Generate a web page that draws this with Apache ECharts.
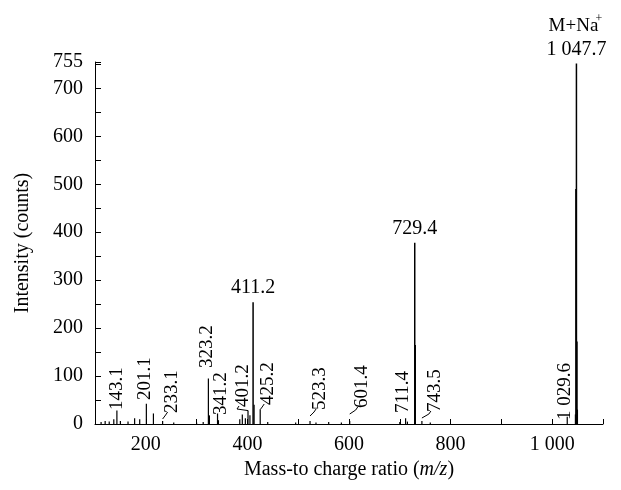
<!DOCTYPE html>
<html>
<head>
<meta charset="utf-8">
<script src="https://cdn.jsdelivr.net/npm/echarts@6/dist/echarts.min.js"></script>
<style>
  html, body { margin: 0; padding: 0; background: #fff; }
  #main { width: 621px; height: 490px; }
</style>
</head>
<body>
<div id="main"></div>
<script>
// peak list (m/z, counts)
const mz = [112, 120, 128, 137, 143.1, 150, 165, 178, 188, 201.1, 215, 233.1, 255, 300, 313,
  323.2, 325.2, 341.2, 343, 385, 390, 396, 401.2, 405, 411.2, 413.2, 425.2, 440, 495, 523.3,
  535, 560, 585, 601.4, 700, 711.4, 715, 729.4, 730.4, 743.5, 760, 1029.6, 1045.7, 1046.7,
  1047.7, 1048.7, 1049.7];
const intensity = [4, 6, 5, 10, 28, 6, 5, 12, 10, 42, 22, 6, 3, 3, 4,
  95, 18, 22, 8, 10, 20, 12, 28, 18, 254, 40, 30, 4, 3, 6,
  3, 4, 3, 6, 4, 12, 5, 378, 165, 6, 3, 15, 20, 490,
  752, 172, 30];

// labelled peaks
const sideLabels = [143.1, 201.1, 233.1, 323.2, 341.2, 401.2, 425.2, 523.3, 601.4, 711.4, 743.5, 1029.6];
const topLabels = [411.2, 729.4, 1047.7];
const adduct = { mz: 1047.7, text: 'M+Na' };

const yTickLabels = [0, 100, 200, 300, 400, 500, 600, 700, 755];
const yTicks = [0, 50, 100, 150, 200, 250, 300, 350, 400, 450, 500, 550, 600, 650, 700, 750, 755];
const xTickLabels = [200, 400, 600, 800, 1000];

// label nudges in px: [dx from peak, lift of label bottom above baseline]
const nudge = {
  '143.1': [0, 14], '201.1': [-1, 24], '233.1': [9, 11], '323.2': [-1, 56],
  '341.2': [3, 9], '401.2': [-5, 17], '425.2': [8, 19], '523.3': [10, 14],
  '601.4': [12, 16], '711.4': [-3, 11], '743.5': [13, 12], '1029.6': [-2, 4]
};

const FONT = '"Liberation Serif", "Times New Roman", serif';

function fmt(v) {
  // 1 047.7 style thousands separator
  return String(v).replace(/^(\d)(\d{3})/, '$1 $2');
}

const chart = echarts.init(document.getElementById('main'), null, { renderer: 'canvas' });

const option = {
  backgroundColor: '#fff',
  animation: false,
  grid: { left: 95, right: 18, top: 62, bottom: 66 },
  xAxis: {
    type: 'value',
    min: 100,
    max: 1100,
    interval: 100,
    name: '{n|Mass-to charge ratio (}{i|m/z}{n|)}',
    nameLocation: 'middle',
    nameGap: 31,
    nameTextStyle: {
      rich: {
        n: { fontFamily: FONT, fontSize: 20, color: '#000' },
        i: { fontFamily: FONT, fontSize: 20, color: '#000', fontStyle: 'italic' }
      }
    },
    axisLine: { lineStyle: { color: '#000', width: 1 } },
    axisTick: { inside: true, length: 5, lineStyle: { color: '#000' } },
    axisLabel: {
      customValues: xTickLabels,
      formatter: fmt,
      margin: 11,
      fontFamily: FONT,
      fontSize: 20,
      color: '#000'
    },
    splitLine: { show: false }
  },
  yAxis: {
    type: 'value',
    min: 0,
    max: 755,
    name: 'Intensity (counts)',
    nameLocation: 'middle',
    nameGap: 62,
    nameTextStyle: { fontFamily: FONT, fontSize: 20, color: '#000' },
    axisLine: { show: true, lineStyle: { color: '#000', width: 1 } },
    axisTick: { show: true, inside: true, length: 6, customValues: yTicks, lineStyle: { color: '#000' } },
    axisLabel: {
      customValues: yTickLabels,
      margin: 12,
      fontFamily: FONT,
      fontSize: 20,
      color: '#000'
    },
    splitLine: { show: false }
  },
  series: [{
    type: 'custom',
    clip: false,
    data: mz.map((m, i) => [m, intensity[i]]),
    renderItem: function (params, api) {
      const m = api.value(0);
      const h = api.value(1);
      const top = api.coord([m, h]);
      const base = api.coord([m, 0]);
      const kids = [{
        type: 'line',
        shape: { x1: top[0], y1: base[1], x2: top[0], y2: top[1] },
        style: { stroke: '#000', lineWidth: h > 100 ? 1.5 : 1.2 }
      }];
      if (sideLabels.indexOf(m) >= 0) {
        const nd = nudge[String(m)] || [0, 10];
        const lx = top[0] + nd[0];
        const ly = base[1] - nd[1];
        kids.push({
          type: 'text',
          x: lx, y: ly,
          rotation: Math.PI / 2,
          style: {
            text: fmt(m), font: '19px ' + FONT, fill: '#000',
            align: 'left', verticalAlign: 'middle',
            textAlign: 'left', textVerticalAlign: 'middle'
          }
        });
        if (Math.abs(nd[0]) > 4) {
          // little hook from label to its peak
          kids.push({
            type: 'polyline',
            shape: { points: [[lx - 4, ly - 1], [lx - 6, ly + 2], [top[0], Math.min(top[1], ly + 6)]] },
            style: { stroke: '#000', lineWidth: 1, fill: null }
          });
        }
      }
      if (topLabels.indexOf(m) >= 0) {
        kids.push({
          type: 'text',
          x: top[0], y: top[1] - 4,
          style: {
            text: fmt(m), font: '20px ' + FONT, fill: '#000',
            align: 'center', verticalAlign: 'bottom',
            textAlign: 'center', textVerticalAlign: 'bottom'
          }
        });
      }
      if (m === adduct.mz) {
        kids.push({
          type: 'text',
          x: top[0] - 3, y: top[1] - 28,
          style: {
            text: adduct.text, font: '19px ' + FONT, fill: '#000',
            align: 'center', verticalAlign: 'bottom',
            textAlign: 'center', textVerticalAlign: 'bottom'
          }
        });
        kids.push({
          type: 'text',
          x: top[0] + 19, y: top[1] - 39,
          style: {
            text: '+', font: '12px ' + FONT, fill: '#000',
            align: 'left', verticalAlign: 'bottom',
            textAlign: 'left', textVerticalAlign: 'bottom'
          }
        });
      }
      return { type: 'group', children: kids };
    }
  }]
};

chart.setOption(option);
</script>
</body>
</html>
